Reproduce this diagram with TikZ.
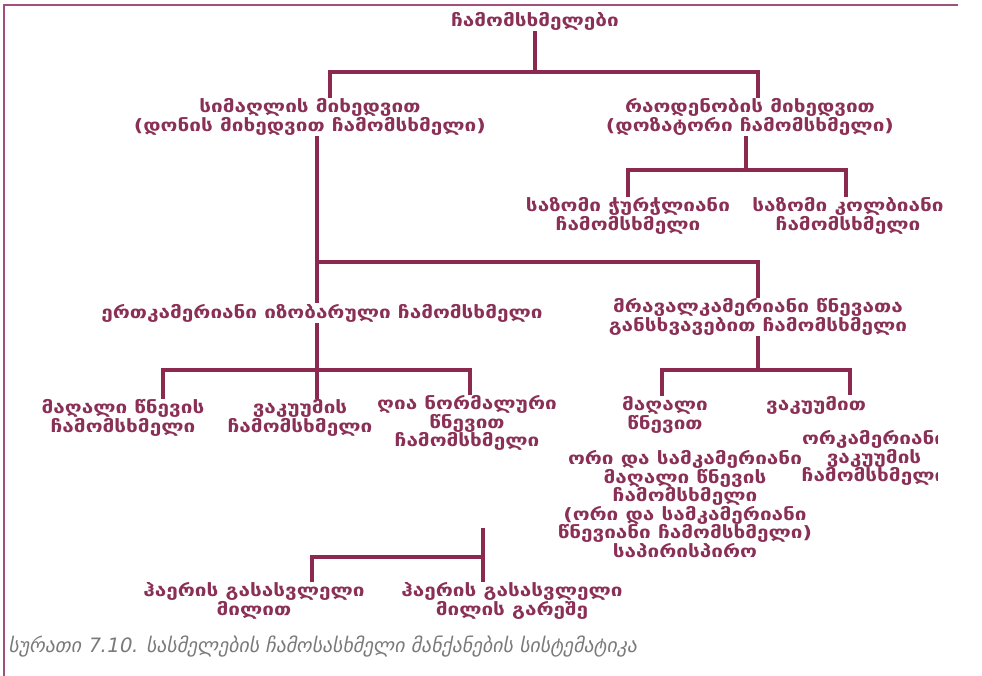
\documentclass[tikz,border=0pt]{standalone}
\usepackage{fontspec}
\newfontfamily\geo[FakeStretch=1.22]{DejaVu Sans}
\newfontfamily\geocap[FakeSlant=0.2]{DejaVu Sans}
\definecolor{txtc}{HTML}{8A2F55}
\definecolor{wirec}{HTML}{8B2A4E}
\definecolor{framec}{HTML}{A0507A}
\definecolor{capc}{HTML}{7A7A7A}
\tikzset{
  lbl/.style={font=\geo\bfseries\fontsize{17}{18.5}\selectfont, text=txtc, align=center, inner sep=3pt},
  wire/.style={draw=wirec, line width=4.5pt, line cap=rect},
  frameline/.style={draw=framec, line width=2pt},
  captext/.style={font=\geocap\fontsize{19.8}{22}\selectfont, text=capc, inner sep=0pt}
}
\begin{document}
\begin{tikzpicture}[x=1pt,y=-1pt]
\useasboundingbox (0,0) rectangle (982,676);
\fill[white] (0,0) rectangle (982,676);

% frame
\draw[frameline] (4,676) -- (4,5) -- (958,5);

% labels
\node[lbl] (root) at (535,21) {ჩამომსხმელები};
\node[lbl] (hgt) at (310,117) {სიმაღლის მიხედვით\\(დონის მიხედვით ჩამომსხმელი)};
\node[lbl] (qty) at (750,117) {რაოდენობის მიხედვით\\(დოზატორი ჩამომსხმელი)};
\node[lbl] (vessel) at (628,216) {საზომი ჭურჭლიანი\\ჩამომსხმელი};
\node[lbl] (flask) at (848,216) {საზომი კოლბიანი\\ჩამომსხმელი};
\node[lbl] (iso) at (322,313) {ერთკამერიანი იზობარული ჩამომსხმელი};
\node[lbl] (multi) at (758,317) {მრავალკამერიანი წნევათა\\განსხვავებით ჩამომსხმელი};
\node[lbl] (hp) at (123,418) {მაღალი წნევის\\ჩამომსხმელი};
\node[lbl] (vac) at (300,418) {ვაკუუმის\\ჩამომსხმელი};
\node[lbl] (open) at (467,423) {ღია ნორმალური\\წნევით\\ჩამომსხმელი};
\node[lbl] (hpw) at (665,415) {მაღალი\\წნევით};
\node[lbl] (vacw) at (816,405) {ვაკუუმით};
\node[lbl] (twothree) at (685,504) {ორი და სამკამერიანი\\მაღალი წნევის\\ჩამომსხმელი\\(ორი და სამკამერიანი\\წნევიანი ჩამომსხმელი)\\საპირისპირო};
\begin{scope}
\clip (0,0) rectangle (937,676);
\node[lbl] (twovac) at (874,458) {ორკამერიანი\\ვაკუუმის\\ჩამომსხმელი};
\end{scope}
\node[lbl] (air1) at (254,601) {ჰაერის გასასვლელი\\მილით};
\node[lbl] (air2) at (512,601) {ჰაერის გასასვლელი\\მილის გარეშე};

% first split
\coordinate (t0) at (535,72);
\coordinate (tL) at (330,72);
\coordinate (tR) at (758,72);
\draw[wire] (root.south) -- (t0);
\draw[wire] (tL) -- (tR);
\draw[wire] (tL) -- (tL |- hgt.north);
\draw[wire] (tR) -- (tR |- qty.north);

% dosing branch
\coordinate (q0) at (746,170);
\coordinate (qL) at (628,170);
\coordinate (qR) at (846,170);
\draw[wire] (qty.south -| q0) -- (q0);
\draw[wire] (qL) -- (qR);
\draw[wire] (qL) -- (qL |- vessel.north);
\draw[wire] (qR) -- (qR |- flask.north);

% level branch
\coordinate (m0) at (317,262);
\coordinate (mR) at (758,262);
\draw[wire] (hgt.south -| m0) -- (m0);
\draw[wire] (m0) -- (mR);
\draw[wire] (m0) -- (m0 |- iso.north);
\draw[wire] (mR) -- (mR |- multi.north);

% isobaric branch
\coordinate (iL) at (163,370);
\coordinate (iM) at (317,370);
\coordinate (iR) at (470,370);
\draw[wire] (iso.south -| iM) -- (iM);
\draw[wire] (iL) -- (iR);
\draw[wire] (iL) -- (iL |- hp.north);
\draw[wire] (iM) -- (iM |- vac.north);
\draw[wire] (iR) -- (iR |- open.north);

% multi-chamber branch
\coordinate (r0) at (758,370);
\coordinate (rL) at (662,370);
\coordinate (rR) at (850,370);
\draw[wire] (multi.south -| r0) -- (r0);
\draw[wire] (rL) -- (rR);
\draw[wire] (rL) -- (rL |- hpw.north);
\draw[wire] (rR) -- (rR |- vacw.north);

% air outlet branch
\coordinate (bL) at (312,557);
\coordinate (bR) at (483,557);
\coordinate (bS) at (483,530);
\draw[wire] (bL) -- (bR);
\draw[wire] (bS) -- (bS |- air2.north);
\draw[wire] (bL) -- (bL |- air1.north);

% caption
\node[captext, anchor=west] (caption) at (8,647) {სურათი 7.10. სასმელების ჩამოსასხმელი მანქანების სისტემატიკა};
\end{tikzpicture}
\end{document}
